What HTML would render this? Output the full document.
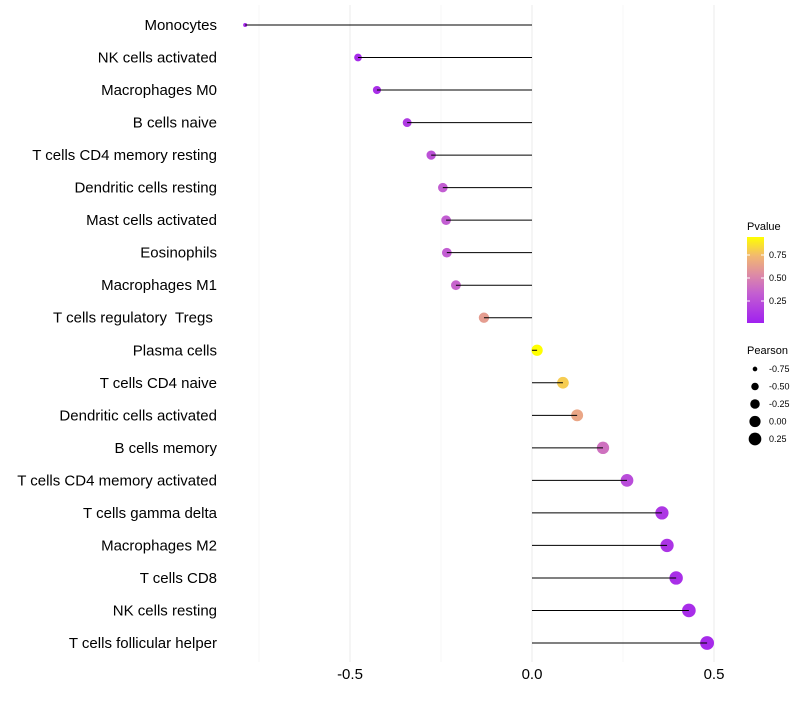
<!DOCTYPE html>
<html><head><meta charset="utf-8"><style>
body{margin:0;background:#fff;font-family:"Liberation Sans",sans-serif}
text{white-space:pre}
</style></head><body>
<svg id="chart" width="800" height="700" xmlns="http://www.w3.org/2000/svg" font-family="Liberation Sans, sans-serif">
<defs><linearGradient id="pg" x1="0" y1="1" x2="0" y2="0">
<stop offset="0" stop-color="#a020f0"/><stop offset="0.35" stop-color="#c460d0"/><stop offset="0.55" stop-color="#dc88a8"/><stop offset="0.78" stop-color="#f2b870"/><stop offset="1" stop-color="#ffff00"/>
</linearGradient></defs>
<g id="grid"></g><g id="marks"></g><g id="axes"></g>
<g>
<text x="747" y="230" font-size="11" fill="#000">Pvalue</text>
<rect x="747" y="237" width="17" height="86" fill="url(#pg)"/>
<line x1="747" y1="255" x2="750" y2="255" stroke="#fff"/><line x1="761" y1="255" x2="764" y2="255" stroke="#fff"/>
<line x1="747" y1="278" x2="750" y2="278" stroke="#fff"/><line x1="761" y1="278" x2="764" y2="278" stroke="#fff"/>
<line x1="747" y1="301" x2="750" y2="301" stroke="#fff"/><line x1="761" y1="301" x2="764" y2="301" stroke="#fff"/>
<text x="769" y="258" font-size="9">0.75</text><text x="769" y="281" font-size="9">0.50</text><text x="769" y="304" font-size="9">0.25</text>
</g>
<g id="sizeleg">
<text x="747" y="354" font-size="11" fill="#000">Pearson</text>
</g>
</svg>
<script>
const categories=["Monocytes","NK cells activated","Macrophages M0","B cells naive","T cells CD4 memory resting","Dendritic cells resting","Mast cells activated","Eosinophils","Macrophages M1","T cells regulatory  Tregs ","Plasma cells","T cells CD4 naive","Dendritic cells activated","B cells memory","T cells CD4 memory activated","T cells gamma delta","Macrophages M2","T cells CD8","NK cells resting","T cells follicular helper"];
const pearson=[-0.788,-0.478,-0.426,-0.343,-0.277,-0.245,-0.236,-0.234,-0.209,-0.132,0.014,0.085,0.124,0.195,0.261,0.357,0.371,0.396,0.431,0.481];
const pvalue=[0.02,0.03,0.05,0.12,0.25,0.32,0.32,0.32,0.36,0.62,0.97,0.8,0.66,0.42,0.22,0.1,0.08,0.05,0.04,0.02];
const xTicks=[-0.5,0,0.5];
const xTickLabels=["-0.5","0.0","0.5"];
const minorTicks=[-0.75,-0.25,0.25];
const sizeLegend=[-0.75,-0.5,-0.25,0,0.25];
const NS="http://www.w3.org/2000/svg";
const x=v=>532+v*364;
const y=i=>25+i*(618/19);
const r=v=>{const t=Math.max(0,(v+0.79)/1.27);return Math.sqrt(4+44*t);};
function col(p){const st=[[0,[165,40,235]],[0.35,[196,96,208]],[0.55,[220,136,168]],[0.78,[242,184,112]],[1,[255,255,0]]];
 const t=(p-0.01)/(0.95-0.01);const q=Math.max(0,Math.min(1,t));
 for(let k=1;k<st.length;k++){if(q<=st[k][0]){const a=st[k-1],b=st[k],f=(q-a[0])/(b[0]-a[0]);return`rgb(${a[1].map((c,j)=>Math.round(c+(b[1][j]-c)*f)).join(',')})`;}}return"#ff0";}
function mk(tag,at,parent){const e=document.createElementNS(NS,tag);for(const k in at)e.setAttribute(k,at[k]);parent.appendChild(e);return e;}
const G=document.getElementById('grid'),M=document.getElementById('marks'),A=document.getElementById('axes');
minorTicks.forEach(v=>{const l=mk('line',{x1:x(v),x2:x(v),y1:5,y2:662,stroke:'#f2f2f2','stroke-width':0.6},G);

});
xTicks.forEach((v,i)=>{const l=mk('line',{x1:x(v),x2:x(v),y1:5,y2:662,stroke:'#ebebeb','stroke-width':1},G);


const t=mk('text',{x:x(v),y:679,'font-size':15,'text-anchor':'middle',fill:'#000'},A);t.textContent=xTickLabels[i];

});
categories.forEach((c,i)=>{const t=mk('text',{x:217,y:y(i)+5,'font-size':15,'text-anchor':'end',fill:'#000'},A);t.textContent=c;


const d=mk('circle',{cx:x(pearson[i]),cy:y(i),r:r(pearson[i]),fill:col(pvalue[i])},M);


const s=mk('line',{x1:x(0),x2:x(pearson[i]),y1:y(i),y2:y(i),stroke:'#000','stroke-width':1},M);

});
const SL=document.getElementById('sizeleg');
sizeLegend.forEach((v,i)=>{const yy=369+i*17.5;const c=mk('circle',{cx:755,cy:yy,r:r(v),fill:'#000'},SL);


const t=mk('text',{x:769,y:yy+3,'font-size':9},SL);t.textContent=v.toFixed(2);

});
</script>
</body></html>
